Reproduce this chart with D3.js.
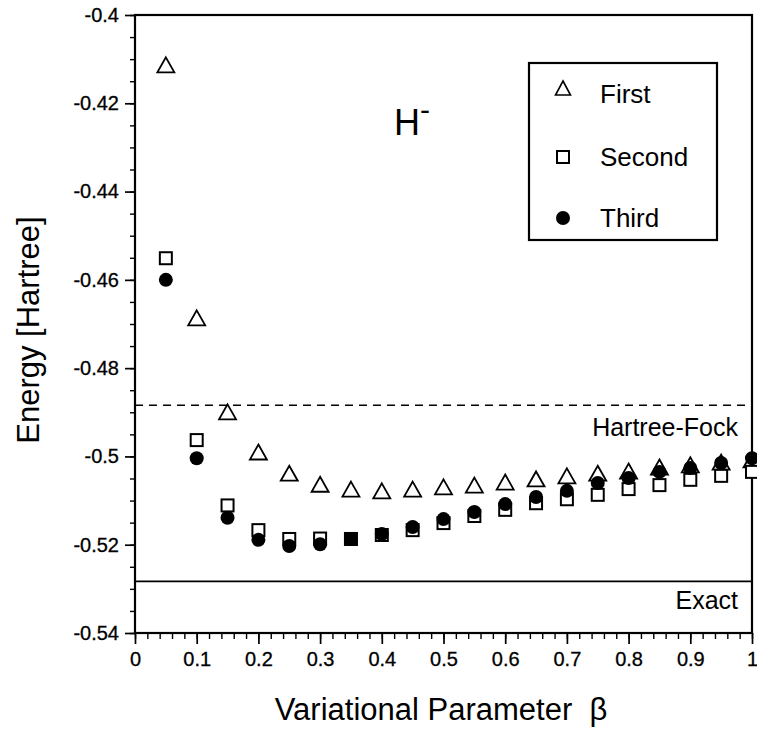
<!DOCTYPE html>
<html>
<head>
<meta charset="utf-8">
<script src="https://cdn.jsdelivr.net/npm/d3@7"></script>
<style>
  body { margin: 0; background: #fff; }
  svg { display: block; font-family: "Liberation Sans", Arial, sans-serif; }
</style>
</head>
<body>
<svg id="chart" width="757" height="731"></svg>
<script>
// variational parameter beta
const beta = [0.05, 0.1, 0.15, 0.2, 0.25, 0.3, 0.35, 0.4, 0.45, 0.5,
              0.55, 0.6, 0.65, 0.7, 0.75, 0.8, 0.85, 0.9, 0.95, 1.0];

// energies (Hartree)
const first = [-0.4113, -0.4686, -0.4899, -0.4990, -0.5038, -0.5063, -0.5074, -0.5078, -0.5074, -0.5069,
               -0.5065, -0.5058, -0.5051, -0.5044, -0.5038, -0.5033, -0.5024, -0.5019, -0.5013, -0.5008];
const second = [-0.4551, -0.4963, -0.5111, -0.5167, -0.5187, -0.5186, -0.5187, -0.5178, -0.5167, -0.5151,
                -0.5135, -0.5121, -0.5106, -0.5097, -0.5087, -0.5074, -0.5065, -0.5053, -0.5044, -0.5035];
const third = [-0.4600, -0.5004, -0.5139, -0.5189, -0.5203, -0.5199, -0.5187, -0.5176, -0.5160, -0.5142,
               -0.5126, -0.5108, -0.5092, -0.5078, -0.5060, -0.5049, -0.5035, -0.5026, -0.5015, -0.5004];

const hartreeFock = -0.4884;
const exact = -0.5283;

const xTicks = [0, 0.1, 0.2, 0.3, 0.4, 0.5, 0.6, 0.7, 0.8, 0.9, 1];
const xTickLabels = ["0", "0.1", "0.2", "0.3", "0.4", "0.5", "0.6", "0.7", "0.8", "0.9", "1"];
const yTicks = [-0.4, -0.42, -0.44, -0.46, -0.48, -0.5, -0.52, -0.54];
const yTickLabels = ["-0.4", "-0.42", "-0.44", "-0.46", "-0.48", "-0.5", "-0.52", "-0.54"];
const legendNames = ["First", "Second", "Third"];

const svg = d3.select("#chart");
const plotL = 135, plotR = 752, plotT = 15, plotB = 633;
const font = "Liberation Sans, Arial, sans-serif";

const x = d3.scaleLinear().domain([0, 1]).range([plotL, plotR]);
const y = d3.scaleLinear().domain([-0.54, -0.4]).range([plotB, plotT]);

// minor ticks
const xMinor = d3.range(0, 1.0001, 0.02);
const yMinor = d3.range(-0.54, -0.3999, 0.005);

svg.append("g")
  .attr("transform", `translate(0,${plotB})`)
  .call(d3.axisBottom(x).tickValues(xMinor).tickSize(6).tickFormat(""))
  .call(g => g.select(".domain").remove())
  .selectAll("line").attr("stroke-width", 1.4);

svg.append("g")
  .attr("transform", `translate(${plotL},0)`)
  .call(d3.axisLeft(y).tickValues(yMinor).tickSize(5).tickFormat(""))
  .call(g => g.select(".domain").remove())
  .selectAll("line").attr("stroke-width", 1.4);

// major ticks with labels
const xAxis = svg.append("g")
  .attr("transform", `translate(0,${plotB})`)
  .call(d3.axisBottom(x).tickValues(xTicks).tickSize(11).tickPadding(8)
    .tickFormat((d, i) => xTickLabels[i]))
  .call(g => g.select(".domain").remove());
xAxis.selectAll("line").attr("stroke-width", 1.7);
xAxis.selectAll("text").attr("font-size", 20).attr("font-family", font)
  .attr("fill", "#000").attr("stroke", "#000").attr("stroke-width", 0.3);

const yAxis = svg.append("g")
  .attr("transform", `translate(${plotL},0)`)
  .call(d3.axisLeft(y).tickValues(yTicks).tickSize(10).tickPadding(6)
    .tickFormat((d, i) => yTickLabels[i]))
  .call(g => g.select(".domain").remove());
yAxis.selectAll("line").attr("stroke-width", 1.7);
yAxis.selectAll("text").attr("font-size", 20).attr("font-family", font)
  .attr("fill", "#000").attr("stroke", "#000").attr("stroke-width", 0.3);

// frame
svg.append("rect")
  .attr("x", plotL).attr("y", plotT)
  .attr("width", plotR - plotL).attr("height", plotB - plotT)
  .attr("fill", "none").attr("stroke", "#000").attr("stroke-width", 2.2);

// reference lines
svg.append("line")
  .attr("x1", plotL).attr("x2", plotR)
  .attr("y1", y(hartreeFock)).attr("y2", y(hartreeFock))
  .attr("stroke", "#000").attr("stroke-width", 1.4).attr("stroke-dasharray", "8,6");
svg.append("line")
  .attr("x1", plotL).attr("x2", plotR)
  .attr("y1", y(exact)).attr("y2", y(exact))
  .attr("stroke", "#000").attr("stroke-width", 1.7);

svg.append("text")
  .attr("x", 738).attr("y", y(hartreeFock) + 31)
  .attr("text-anchor", "end").attr("font-size", 25)
  .text("Hartree-Fock");
svg.append("text")
  .attr("x", 738).attr("y", y(exact) + 28)
  .attr("text-anchor", "end").attr("font-size", 25)
  .text("Exact");

// H- label
const hl = svg.append("text").attr("x", 394).attr("y", 135).attr("font-size", 36);
hl.append("tspan").text("H");
hl.append("tspan").attr("font-size", 30).attr("dy", -15).text("-");

// markers
const triPath = (cx, cy, w, h) =>
  `M${cx},${cy - h / 2}L${cx + w / 2},${cy + h / 2}L${cx - w / 2},${cy + h / 2}Z`;

svg.append("g").selectAll("path")
  .data(beta.map((b, i) => [b, first[i]]))
  .enter().append("path")
  .attr("d", d => triPath(x(d[0]), y(d[1]), 17, 15))
  .attr("fill", "#fff").attr("stroke", "#000").attr("stroke-width", 1.8)
  .attr("stroke-linejoin", "miter");

svg.append("g").selectAll("rect")
  .data(beta.map((b, i) => [b, second[i]]))
  .enter().append("rect")
  .attr("x", d => x(d[0]) - 6).attr("y", d => y(d[1]) - 6)
  .attr("width", 12).attr("height", 12)
  .attr("fill", "#fff").attr("stroke", "#000").attr("stroke-width", 2);

svg.append("g").selectAll("circle")
  .data(beta.map((b, i) => [b, third[i]]))
  .enter().append("circle")
  .attr("cx", d => x(d[0])).attr("cy", d => y(d[1]))
  .attr("r", 7)
  .attr("fill", "#000");

// legend
const lg = svg.append("g");
lg.append("rect")
  .attr("x", 529).attr("y", 63).attr("width", 188).attr("height", 177)
  .attr("fill", "#fff").attr("stroke", "#000").attr("stroke-width", 2.2);
const rowY = [94, 157, 218];
lg.append("path").attr("d", triPath(563, 88, 15, 14))
  .attr("fill", "#fff").attr("stroke", "#000").attr("stroke-width", 1.6);
lg.append("rect").attr("x", 557).attr("y", rowY[1] - 6).attr("width", 12).attr("height", 12)
  .attr("fill", "#fff").attr("stroke", "#000").attr("stroke-width", 2);
lg.append("circle").attr("cx", 563).attr("cy", rowY[2]).attr("r", 7).attr("fill", "#000");
lg.selectAll("text.leg")
  .data(legendNames)
  .enter().append("text")
  .attr("class", "leg")
  .attr("x", 600).attr("y", (d, i) => rowY[i] + 9)
  .attr("font-size", 26)
  .text(d => d);

// axis titles
svg.append("text")
  .attr("x", 441).attr("y", 720)
  .attr("text-anchor", "middle").attr("font-size", 31)
  .attr("xml:space", "preserve")
  .text("Variational Parameter  β");
svg.append("text")
  .attr("transform", "translate(39,330) rotate(-90)")
  .attr("text-anchor", "middle").attr("font-size", 31)
  .text("Energy [Hartree]");
</script>
</body>
</html>
